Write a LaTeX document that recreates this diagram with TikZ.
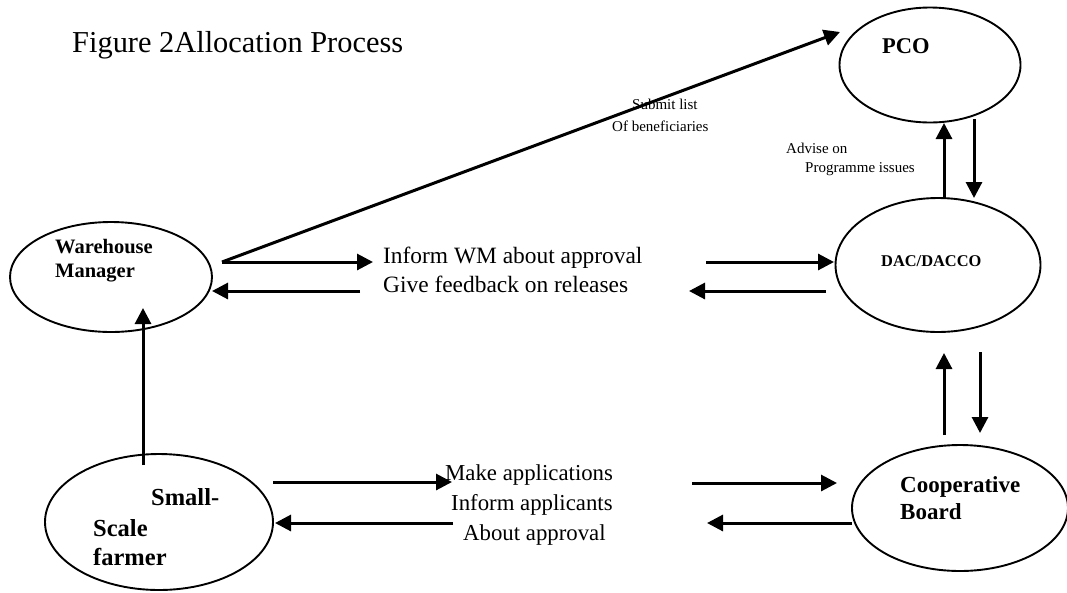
\documentclass[tikz,border=0pt]{standalone}
\usepackage{fontspec}
\setmainfont{Liberation Serif}
\usetikzlibrary{arrows.meta,shapes.geometric}

\tikzset{
  actor/.style={draw, line width=1.9pt, ellipse, inner sep=0pt},
  flow/.style={line width=3pt, -{Triangle[length=16pt,width=16pt]}},
  txt/.style={inner sep=0pt, anchor=base west},
  role/.style={txt, font=\bfseries},
}

\begin{document}
\begin{tikzpicture}[x=1pt, y=-1pt]
\useasboundingbox (0,0) rectangle (1067,592);

% title
\node[txt, font=\fontsize{30.4}{36}\selectfont] (title) at (72,52) {Figure 2Allocation Process};

% the five parties
\node[actor, minimum width=181pt, minimum height=115pt] (pco)  at (930,65)  {};
\node[actor, minimum width=205pt, minimum height=134pt] (dac)  at (938,265) {};
\node[actor, minimum width=216pt, minimum height=126pt] (coop) at (960,508) {};
\node[actor, minimum width=202pt, minimum height=110pt] (wm)   at (111,277) {};
\node[actor, minimum width=228pt, minimum height=136pt] (ssf)  at (159,522) {};

% their names
\node[role, font=\bfseries\fontsize{22.5}{27}\selectfont] (pcoA) at (882,53) {PCO};
\node[role, font=\bfseries\fontsize{16.4}{20}\selectfont] (dacA) at (881,266) {DAC/DACCO};
\node[role, font=\bfseries\fontsize{23}{28}\selectfont] (coopA) at (900,492) {Cooperative};
\node[role, font=\bfseries\fontsize{23}{28}\selectfont] (coopB) at (900,519) {Board};
\node[role, font=\bfseries\fontsize{20.5}{24}\selectfont] (wmA) at (55,253) {Warehouse};
\node[role, font=\bfseries\fontsize{20.5}{24}\selectfont] (wmB) at (55,277) {Manager};
\node[role, font=\bfseries\fontsize{24.5}{29}\selectfont] (ssfA) at (151,505) {Small-};
\node[role, font=\bfseries\fontsize{24.5}{29}\selectfont] (ssfB) at (93,536) {Scale};
\node[role, font=\bfseries\fontsize{24.5}{29}\selectfont] (ssfC) at (93,565) {farmer};

% arrow labels
\node[txt, font=\fontsize{15}{18}\selectfont] (subA) at (632,109) {Submit list};
\node[txt, font=\fontsize{15}{18}\selectfont] (subB) at (612,131) {Of beneficiaries};
\node[txt, font=\fontsize{15}{18}\selectfont] (advA) at (786,153) {Advise on};
\node[txt, font=\fontsize{15}{18}\selectfont] (advB) at (805,172) {Programme issues};
\node[txt, font=\fontsize{23.4}{28}\selectfont] (infA) at (383,263) {Inform WM about approval};
\node[txt, font=\fontsize{23.4}{28}\selectfont] (infB) at (383,292) {Give feedback on releases};
\node[txt, font=\fontsize{22.8}{27}\selectfont] (appA) at (445,480) {Make applications};
\node[txt, font=\fontsize{22.8}{27}\selectfont] (appB) at (451,510) {Inform applicants};
\node[txt, font=\fontsize{22.8}{27}\selectfont] (appC) at (463,540) {About approval};

% arrow end points
\coordinate (wmOut)   at (222,262);
\coordinate (pcoIn)   at (840,32);
\coordinate (wmMidA)  at (373,262);
\coordinate (wmMidB)  at (360,291);
\coordinate (wmIn)    at (212,291);
\coordinate (dacMidA) at (706,262);
\coordinate (dacIn)   at (834,262);
\coordinate (dacOut)  at (826,291);
\coordinate (dacMidB) at (689,291);
\coordinate (dacUpS)  at (944,198);
\coordinate (pcoUpE)  at (944,123);
\coordinate (pcoDnS)  at (974,119);
\coordinate (dacDnE)  at (974,198);
\coordinate (coopUpS) at (944,435);
\coordinate (dacUpE)  at (944,353);
\coordinate (dacDnS)  at (980,352);
\coordinate (coopDnE) at (980,433);
\coordinate (ssfUpS)  at (143,465);
\coordinate (wmUpE)   at (143,308);
\coordinate (ssfOut)  at (273,482);
\coordinate (ssfMidA) at (452,482);
\coordinate (ssfMidB) at (453,523);
\coordinate (ssfIn)   at (275,523);
\coordinate (coopMidA) at (692,483);
\coordinate (coopIn)  at (837,483);
\coordinate (coopOut) at (852,523);
\coordinate (coopMidB) at (707,523);

% flows
\draw[flow] (wmOut) -- (pcoIn);
\draw[flow] (wmOut) -- (wmMidA);
\draw[flow] (wmMidB) -- (wmIn);
\draw[flow] (dacMidA) -- (dacIn);
\draw[flow] (dacOut) -- (dacMidB);
\draw[flow] (dacUpS) -- (pcoUpE);
\draw[flow] (pcoDnS) -- (dacDnE);
\draw[flow] (coopUpS) -- (dacUpE);
\draw[flow] (dacDnS) -- (coopDnE);
\draw[flow] (ssfUpS) -- (wmUpE);
\draw[flow] (ssfOut) -- (ssfMidA);
\draw[flow] (ssfMidB) -- (ssfIn);
\draw[flow] (coopMidA) -- (coopIn);
\draw[flow] (coopOut) -- (coopMidB);
\end{tikzpicture}
\end{document}
